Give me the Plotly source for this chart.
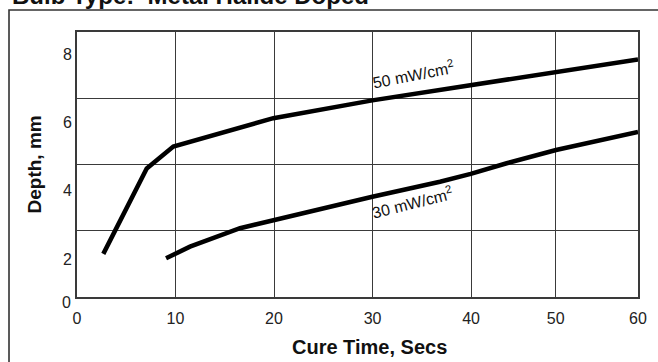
import plotly.graph_objects as go

# ---- axis values / labels ----
x_grid_vals = [0, 10, 20, 30, 40, 48.6, 56.95]
x_tick_text = ["0", "10", "20", "30", "40", "50", "60"]
x_range = [0, 56.95]

y_label_vals = [2, 4, 6, 8]
y_label_text = ["2", "4", "6", "8"]
y_label_range = [0.888, 8.641]

y_grid_vals = [0, 2, 4, 6, 8]
y_grid_range = [0, 8]

# ---- series: cure time (s) vs depth (mm) ----
t50 = [2.67, 7.08, 9.78, 19.93, 29.98, 39.97, 48.63, 56.95]
d50 = [2.15, 4.65, 5.29, 6.12, 6.64, 7.08, 7.48, 7.84]

t30 = [9.04, 11.47, 16.55, 20.03, 29.98, 36.85, 39.97, 43.62, 48.63, 56.95]
d30 = [2.02, 2.36, 2.90, 3.14, 3.82, 4.26, 4.49, 4.80, 5.19, 5.72]

FONT = "Liberation Sans, Arial, sans-serif"
GRID = "#3a3a3a"

fig = go.Figure()
# empty trace to anchor the gridline axis
fig.add_trace(go.Scatter(x=[], y=[], yaxis="y", showlegend=False, hoverinfo="skip"))
fig.add_trace(go.Scatter(x=t50, y=d50, yaxis="y2", mode="lines",
                         line=dict(color="black", width=4.5), showlegend=False))
fig.add_trace(go.Scatter(x=t30, y=d30, yaxis="y2", mode="lines",
                         line=dict(color="black", width=4.5), showlegend=False))

fig.update_layout(
    width=658, height=362,
    margin=dict(l=77, r=20, t=32, b=65),
    paper_bgcolor="white", plot_bgcolor="white",
    font=dict(family=FONT, color="#222", size=16),
    xaxis=dict(range=x_range, tickmode="array", tickvals=x_grid_vals, ticktext=x_tick_text,
               showgrid=True, gridcolor=GRID, gridwidth=1.3, zeroline=False,
               showline=True, linecolor=GRID, linewidth=1.6, mirror=True,
               ticks="", ticklabelstandoff=6, tickfont=dict(size=16)),
    yaxis=dict(range=y_grid_range, tickmode="array", tickvals=y_grid_vals,
               showgrid=True, gridcolor=GRID, gridwidth=1.3, zeroline=False,
               showticklabels=False, showline=True, linecolor=GRID, linewidth=1.6, mirror=True,
               ticks=""),
    yaxis2=dict(range=y_label_range, overlaying="y", side="left", tickmode="array",
                tickvals=y_label_vals, ticktext=y_label_text, showgrid=False, zeroline=False,
                showline=False, ticks="", ticklabelstandoff=4, tickfont=dict(size=16)),
    showlegend=False,
)

annotations = [
    dict(text="<b>Bulb Type:  Metal Halide Doped</b>", xref="paper", yref="paper",
         x=-0.1194, y=1.079, xanchor="left", yanchor="bottom", showarrow=False,
         font=dict(size=24, color="#111")),
    dict(text="<b>Depth, mm</b>", xref="paper", yref="paper", x=-0.0749, y=0.5,
         xanchor="center", yanchor="middle",
         textangle=-90, showarrow=False, font=dict(size=19, color="#111")),
    dict(text="<b>Cure Time, Secs</b>", xref="paper", yref="paper", x=0.5205, y=-0.1887,
         xanchor="center", yanchor="middle",
         showarrow=False, font=dict(size=20, color="#111")),
    dict(text="0", xref="paper", yref="paper", x=-0.0196, y=-0.0226, showarrow=False,
         xanchor="center", yanchor="middle", font=dict(size=16)),
    dict(text="50 mW/cm<sup>2</sup>", xref="x", yref="y2", x=34.2, y=7.42, textangle=-11,
         showarrow=False, font=dict(size=16, color="#111")),
    dict(text="30 mW/cm<sup>2</sup>", xref="x", yref="y2", x=34.1, y=3.66, textangle=-14,
         showarrow=False, font=dict(size=16, color="#111")),
]
fig.update_layout(annotations=annotations)

# outer frame of the figure panel
fig.add_shape(type="path", xref="paper", yref="paper",
              path="M -0.1212 -0.3 L -0.1212 1.083 L 1.1 1.083",
              line=dict(color="#333", width=1.6))

fig.write_html("out.html", config={"displayModeBar": False},
               post_script="document.body.style.margin='0px';")
